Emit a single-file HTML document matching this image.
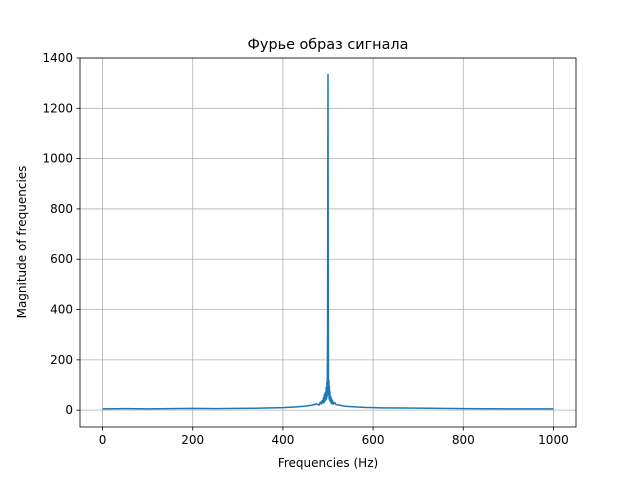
<!DOCTYPE html>
<html><head><meta charset="utf-8"><style>
body{margin:0;background:#fff;font-family:"Liberation Sans","DejaVu Sans",sans-serif}
svg text{font-family:"DejaVu Sans","Liberation Sans",sans-serif;font-size:12px;fill:#000}
</style></head><body>
<svg id="c" width="640" height="480"></svg>
<script>
const freqs=[0,50,100,150,200,250,300,350,400,430,450,465,475,480,483,485,487,489,490,491,492,493,494,495,496,497,497.5,498,498.5,499,499.5,500,500.5,501,501.5,502,502.5,503,503.5,504,505,506,507,508,509,510,512,515,518,525,535,550,580,620,700,800,900,1000];
const mags=[5,6,5,6,7,6,7,8,10,13,16,20,25,20,32,24,38,28,50,30,62,35,70,40,90,45,110,55,140,300,900,1335,500,130,60,120,45,95,40,75,35,55,28,45,25,38,24,30,22,20,16,14,11,9,8,6,5,5];
const yTicks=[0,200,400,600,800,1000,1200,1400];
const xTicks=[0,200,400,600,800,1000];
const L=80,R=576,T=58,B=427;
const x0=-50,x1=1050,y0=-67,y1=1400;
const sx=v=>L+(v-x0)/(x1-x0)*(R-L);
const sy=v=>B-(v-y0)/(y1-y0)*(B-T);
const svg=document.getElementById('c');const NS='http://www.w3.org/2000/svg';
function mk(t,a,p){const e=document.createElementNS(NS,t);for(const k in a)e.setAttribute(k,a[k]);(p||svg).appendChild(e);return e;}
xTicks.forEach(v=>{
const g=mk('line',{x1:sx(v),x2:sx(v),y1:T,y2:B,stroke:'#b0b0b0','stroke-width':0.8});


const tk=mk('line',{x1:sx(v),x2:sx(v),y1:B,y2:B+3.5,stroke:'#000','stroke-width':0.8});


const t=mk('text',{x:sx(v),y:B+17,'text-anchor':'middle'});t.textContent=v;


});
yTicks.forEach(v=>{
const g=mk('line',{x1:L,x2:R,y1:sy(v),y2:sy(v),stroke:'#b0b0b0','stroke-width':0.8});


const tk=mk('line',{x1:L-3.5,x2:L,y1:sy(v),y2:sy(v),stroke:'#000','stroke-width':0.8});


const t=mk('text',{x:L-7,y:sy(v)+4,'text-anchor':'end'});t.textContent=v;


});
const pts=freqs.map((f,i)=>sx(f).toFixed(2)+','+sy(mags[i]).toFixed(2)).join(' ');
const ln=mk('polyline',{points:pts,fill:'none',stroke:'#1f77b4','stroke-width':1.5,'stroke-linejoin':'round'});


const fr=mk('rect',{x:L,y:T,width:R-L,height:B-T,fill:'none',stroke:'#000','stroke-width':0.8});


</script>
<svg width="640" height="480" style="position:absolute;left:0;top:0">
<text x="328" y="49" text-anchor="middle" style="font-size:14.4px">Фурье образ сигнала</text>
<text x="328" y="467" text-anchor="middle">Frequencies (Hz)</text>
<text x="26" y="242" text-anchor="middle" transform="rotate(-90 26 242)">Magnitude of frequencies</text>
</svg>
</body></html>
